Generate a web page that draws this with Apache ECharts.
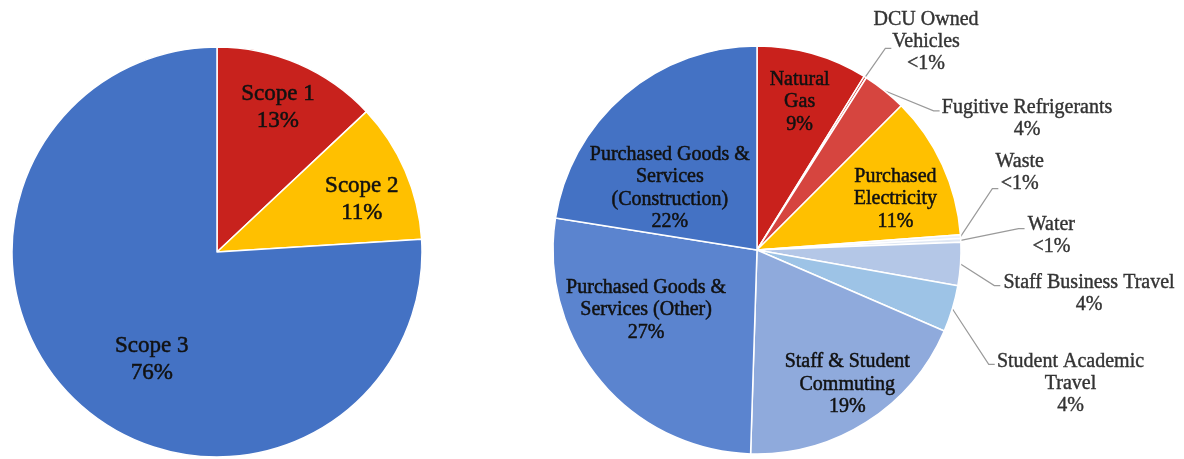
<!DOCTYPE html>
<html>
<head>
<meta charset="utf-8">
<script src="https://cdn.jsdelivr.net/npm/echarts@6/dist/echarts.min.js"></script>
<style>
  html, body { margin: 0; padding: 0; background: #fff; }
  #chart { width: 1184px; height: 459px; }
</style>
</head>
<body>
<div id="chart"></div>
<script>
// left pie: emissions by scope (%)
const scopeNames = ['Scope 1', 'Scope 2', 'Scope 3']
const scopeValues = [13, 11, 76]

// right pie: emissions by source (% of total)
const sourceNames = [
  'Natural\nGas',
  'DCU Owned\nVehicles',
  'Fugitive Refrigerants',
  'Purchased\nElectricity',
  'Waste',
  'Water',
  'Staff Business Travel',
  'Student Academic\nTravel',
  'Staff & Student\nCommuting',
  'Purchased Goods &\nServices (Other)',
  'Purchased Goods &\nServices\n(Construction)'
]
const sourceValues = [8.8, 0.2, 3.5, 11.3, 0.3, 0.3, 3.4, 3.7, 19.0, 27.0, 22.5]
const sourceLabels = ['9%', '<1%', '4%', '11%', '<1%', '<1%', '4%', '4%', '19%', '27%', '22%']

// styles
const FONT = "'Liberation Serif', 'DejaVu Serif', serif"
const scopeColors = ['#c8221d', '#ffc000', '#4472c4']
const sourceColors = ['#c9211c', '#cf3b35', '#d6453f', '#ffc000', '#eef1f7', '#dfe7f3',
  '#b4c7e7', '#9dc3e6', '#8faadc', '#5b84cf', '#4472c4']
const outsideIdx = [1, 2, 4, 5, 6, 7]
// label nudges from the default echarts spot, [dx, dy]
const scopeShift = [[19, -48], [48, -11], [7, 31]]
const sourceShift = [[14, -47], [-8, -27], [40, 36], [43, -7], [14, -63], [46, -4],
  [22, 29], [24, 72], [34, 46], [-30, -7], [-19, 18]]
// where the leader line meets each outside label, relative to its box
const lineEnd = { 1: [18, 39], 2: [-2, 13], 4: [3, 37], 5: [-3, 14], 6: [-3, 13], 7: [-2, 13] }

function centered (text) {
  return text.split('\n').map(s => '{c|' + s + '}').join('\n')
}

const chart = echarts.init(document.getElementById('chart'))
chart.setOption({
  animation: false,
  series: [
    {
      type: 'pie',
      center: [217, 252],
      radius: 205,
      startAngle: 90,
      avoidLabelOverlap: false,
      itemStyle: { borderColor: '#fff', borderWidth: 1.5 },
      label: {
        position: 'inside',
        formatter: p => centered(p.name + '\n' + p.percent + '%'),
        rich: {
          c: {
            align: 'center', fontFamily: FONT, fontSize: 23, lineHeight: 27, color: '#111',
            textBorderColor: '#111', textBorderWidth: 0.5
          }
        }
      },
      labelLayout: p => ({ dx: scopeShift[p.dataIndex][0], dy: scopeShift[p.dataIndex][1] }),
      emphasis: { disabled: true },
      data: scopeNames.map((n, i) => ({ name: n, value: scopeValues[i], itemStyle: { color: scopeColors[i] } }))
    },
    {
      type: 'pie',
      center: [757, 250],
      radius: 204,
      startAngle: 90,
      avoidLabelOverlap: false,
      itemStyle: { borderColor: '#fff', borderWidth: 1.5 },
      label: {
        position: 'inside',
        formatter: p => centered(p.name + '\n' + sourceLabels[p.dataIndex]),
        rich: {
          c: {
            align: 'center', fontFamily: FONT, fontSize: 20, lineHeight: 22.5, color: '#111',
            textBorderColor: '#111', textBorderWidth: 0.5
          }
        }
      },
      labelLine: { show: false },
      labelLayout: p => {
        const [dx, dy] = sourceShift[p.dataIndex]
        const out = { dx, dy }
        const e = lineEnd[p.dataIndex]
        if (e && p.labelLinePoints) {
          const end = [p.labelRect.x + dx + e[0], p.labelRect.y + dy + e[1]]
          out.labelLinePoints = [p.labelLinePoints[0], [end[0] - 6, end[1]], end]
        }
        return out
      },
      emphasis: { disabled: true },
      data: sourceNames.map((n, i) => {
        const item = { name: n, value: sourceValues[i], itemStyle: { color: sourceColors[i] } }
        if (outsideIdx.includes(i)) {
          item.label = {
            position: 'outside',
            rich: {
              c: {
                align: 'center', fontFamily: FONT, fontSize: 20, lineHeight: 22, color: '#333',
                textBorderColor: '#333', textBorderWidth: 0.4
              }
            }
          }
          item.labelLine = { show: true, length: 10, length2: 6, lineStyle: { color: '#9a9a9a', width: 1.2 } }
        }
        return item
      })
    }
  ]
})
</script>
</body>
</html>
